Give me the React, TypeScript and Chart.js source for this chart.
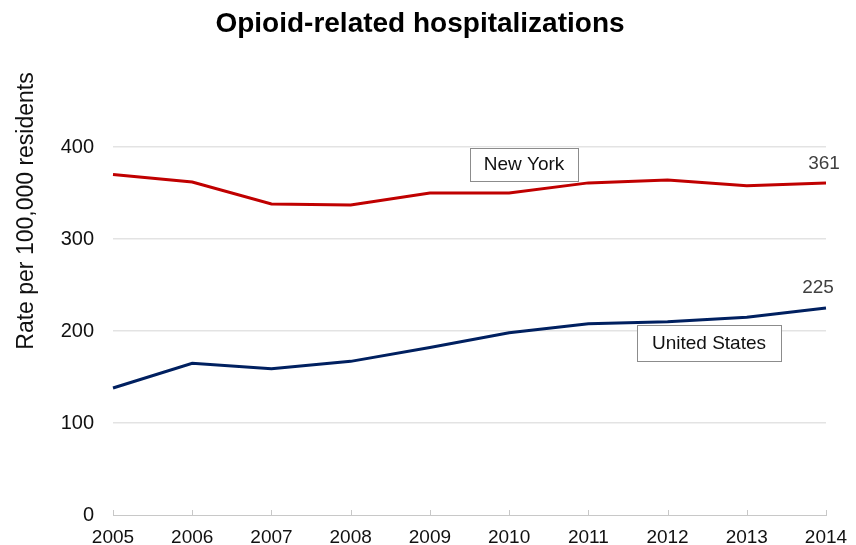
import React, { useEffect, useRef } from "react";
import { Chart, registerables } from "chart.js";

Chart.register(...registerables);

const years = ["2005", "2006", "2007", "2008", "2009", "2010", "2011", "2012", "2013", "2014"];
const newYork = [370, 362, 338, 337, 350, 350, 361, 364, 358, 361];
const unitedStates = [138, 165, 159, 167, 182, 198, 208, 210, 215, 225];
const yTicks = [0, 100, 200, 300, 400];

const FONT = "'Liberation Sans', Arial, sans-serif";

const overlay = {
  id: "overlay",
  afterDraw(chart: any) {
    const { ctx, chartArea, scales } = chart;
    const x = scales.x;
    const y = scales.y;
    ctx.save();
    // tick marks on x axis (pointing up)
    ctx.strokeStyle = "#c8c8c8";
    ctx.lineWidth = 1;
    years.forEach((_, i) => {
      const px = Math.round(x.getPixelForValue(i)) + 0.5;
      ctx.beginPath();
      ctx.moveTo(px, chartArea.bottom - 5);
      ctx.lineTo(px, chartArea.bottom);
      ctx.stroke();
    });
    // title
    ctx.fillStyle = "#000";
    ctx.font = `bold 28px ${FONT}`;
    ctx.textAlign = "center";
    ctx.textBaseline = "middle";
    ctx.fillText("Opioid-related hospitalizations", 412, 16);
    // y axis title
    ctx.save();
    ctx.translate(19, 203);
    ctx.rotate(-Math.PI / 2);
    ctx.font = `23px ${FONT}`;
    ctx.fillStyle = "#111";
    ctx.fillText("Rate per 100,000 residents", 0, 0);
    ctx.restore();
    // end labels
    ctx.font = `19px ${FONT}`;
    ctx.fillStyle = "#404040";
    ctx.textAlign = "center";
    const lastI = years.length - 1;
    const px = x.getPixelForValue(lastI);
    ctx.fillText(String(newYork[lastI]), px - 2, y.getPixelForValue(newYork[lastI]) - 19);
    ctx.fillText(String(unitedStates[lastI]), px - 8, y.getPixelForValue(unitedStates[lastI]) - 20);
    // boxed labels
    const box = (label: string, cx: number, cy: number, w: number, h: number) => {
      ctx.fillStyle = "#fff";
      ctx.fillRect(cx - w / 2, cy - h / 2, w, h);
      ctx.strokeStyle = "#8c8c8c";
      ctx.lineWidth = 1;
      ctx.strokeRect(Math.round(cx - w / 2) + 0.5, Math.round(cy - h / 2) + 0.5, w, h);
      ctx.fillStyle = "#111";
      ctx.font = `19px ${FONT}`;
      ctx.textAlign = "center";
      ctx.fillText(label, cx, cy + 1);
    };
    box("New York", 516, 156, 108, 33);
    box("United States", 701, 335, 144, 36);
    ctx.restore();
  },
};

export default function App() {
  const ref = useRef<HTMLCanvasElement | null>(null);
  useEffect(() => {
    if (!ref.current) return;
    const chart = new Chart(ref.current, {
      type: "line",
      data: {
        labels: years,
        datasets: [
          {
            label: "New York",
            data: newYork,
            borderColor: "#c00000",
            borderWidth: 3,
            pointRadius: 0,
            tension: 0,
          },
          {
            label: "United States",
            data: unitedStates,
            borderColor: "#002060",
            borderWidth: 3,
            pointRadius: 0,
            tension: 0,
          },
        ],
      },
      options: {
        responsive: false,
        animation: false,
        layout: { padding: { top: 139, right: 22, left: 0, bottom: 0 } },
        plugins: { legend: { display: false }, tooltip: { enabled: false }, title: { display: false } },
        scales: {
          x: {
            offset: false,
            afterFit: (s: any) => {
              s.height = 30;
              s.paddingLeft = 0;
              s.paddingRight = 0;
            },
            grid: { display: false, drawTicks: false },
            border: { display: true, color: "#c8c8c8", width: 1 },
            ticks: {
              padding: 11,
              color: "#111",
              font: { family: FONT, size: 19 },
              maxRotation: 0,
              autoSkip: false,
            },
          },
          y: {
            min: 0,
            max: 400,
            afterFit: (s: any) => {
              s.width = 105;
              s.paddingTop = 0;
              s.paddingBottom = 0;
            },
            afterBuildTicks: (s: any) => {
              s.ticks = yTicks.map((v) => ({ value: v }));
            },
            grid: {
              drawTicks: false,
              color: (c: any) => (c.tick && c.tick.value === 0 ? "rgba(0,0,0,0)" : "#e3e3e3"),
              lineWidth: 1.5,
            },
            border: { display: false },
            ticks: {
              padding: 19,
              color: "#111",
              font: { family: FONT, size: 20 },
            },
          },
        },
      },
      plugins: [overlay],
    });
    return () => chart.destroy();
  }, []);
  return <canvas ref={ref} width={840} height={537} style={{ display: "block" }} />;
}
